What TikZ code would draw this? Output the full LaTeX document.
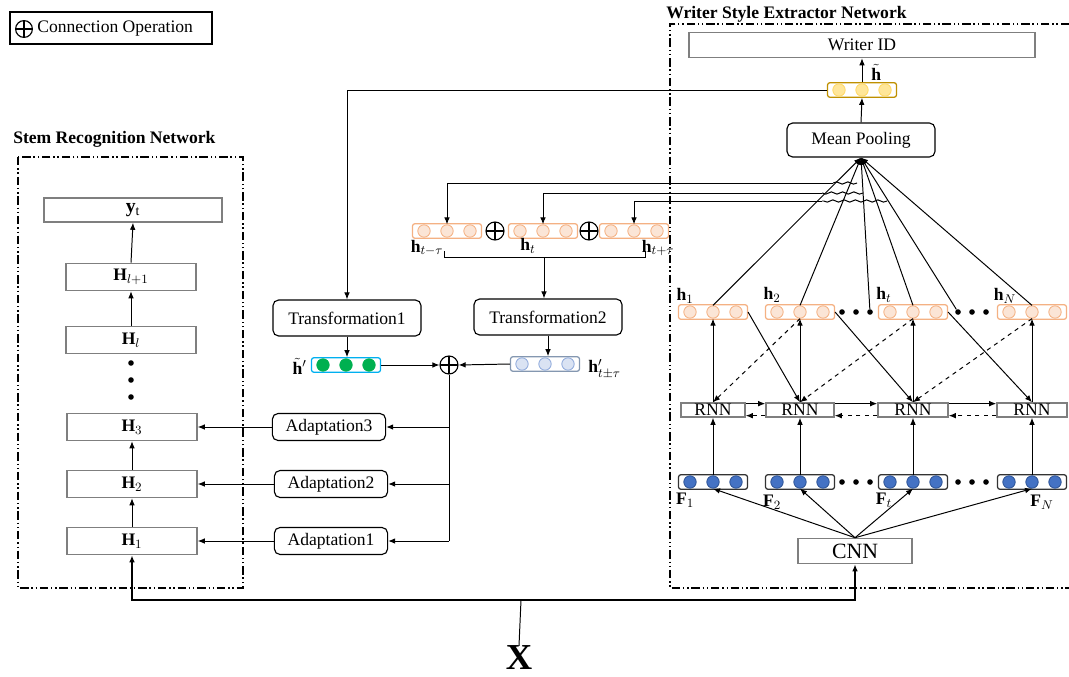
\documentclass[tikz,border=0pt]{standalone}
\usepackage{fontspec}
\setmainfont{Liberation Serif}
\usepackage{tikz}
\usepackage{xcolor}
\usetikzlibrary{arrows.meta,positioning,calc,decorations.pathmorphing}
\definecolor{Peach}{HTML}{F4B183}
\definecolor{PeachFill}{HTML}{FBE5D6}
\definecolor{Gold}{HTML}{BF9000}
\definecolor{GoldFill}{HTML}{FFE699}
\definecolor{GoldRim}{HTML}{FFD966}
\definecolor{Sky}{HTML}{00B0F0}
\definecolor{Leaf}{HTML}{00B050}
\definecolor{Slate}{HTML}{8497B0}
\definecolor{Ice}{HTML}{DAE3F3}
\definecolor{IceRim}{HTML}{8FAADC}
\definecolor{Royal}{HTML}{4472C4}
\definecolor{RoyalRim}{HTML}{2F5597}
\definecolor{Frame}{HTML}{7F7F7F}

% one feature vector: name, position, box colour, circle fill, circle rim
\newcommand{\featvec}[5]{%
  \node[vecbox,draw=#3] (#1) at (#2) {};
  \foreach \k/\dx in {1/-23,2/0,3/23}
    \node[veccirc,fill=#4,draw=#5] (#1-\k) at ($(#1)+(\dx,0)$) {};
}

\begin{document}
\begin{tikzpicture}[x=0.025cm,y=-0.025cm,
  every node/.style={font=\fontsize{12.5}{15}\selectfont},
  grayblock/.style={draw=Frame,line width=1.1pt,inner sep=0pt,minimum width=3.25cm,minimum height=0.675cm},
  opbox/.style={draw,rounded corners=4pt,line width=0.8pt,inner sep=0pt,minimum width=2.83cm,minimum height=0.675cm},
  vecbox/.style={rounded corners=1.5pt,line width=0.9pt,inner sep=0pt,minimum width=1.72cm,minimum height=0.36cm},
  veccirc/.style={circle,inner sep=0pt,minimum size=0.31cm,line width=0.6pt},
  plusop/.style={circle,draw,line width=0.8pt,inner sep=0pt,minimum size=0.45cm,
    path picture={\draw[line width=0.8pt] (path picture bounding box.north) -- (path picture bounding box.south)
      (path picture bounding box.west) -- (path picture bounding box.east);}},
  conn/.style={-{Latex[length=5pt,width=4pt]},line width=0.7pt},
  netframe/.style={line width=0.8pt,dash pattern=on 6pt off 2pt on 1pt off 2pt on 1pt off 2pt},
  hop/.style={line width=0.7pt,decorate,decoration={snake,amplitude=0.8pt,segment length=8pt}},
  bigdot/.style={circle,fill,inner sep=0pt,minimum size=0.14cm},
  lab/.style={inner sep=0pt},
  title/.style={anchor=west,inner sep=0pt,font=\bfseries\fontsize{12.5}{15}\selectfont}]
\useasboundingbox (0,0) rectangle (1069,676);

% legend
\node[draw,line width=0.8pt,inner sep=0pt,minimum width=5.05cm,minimum height=0.8cm] (legend) at (111,28) {};
\node[plusop,minimum size=0.42cm] (legplus) at (24,29) {};
\node[anchor=west,inner sep=0pt] (legtext) at (37,29) {Connection Operation};

% stem recognition network
\node[title] (stemtitle) at (13,139) {Stem Recognition Network};
\draw[netframe] (18,157) rectangle (243,588);
\node[grayblock,minimum width=4.45cm,minimum height=0.6cm,font=\fontsize{14}{16}\selectfont] (yt) at (133,210) {$\mathbf{y}_{\mathrm{t}}$};
\node[grayblock] (Hl1) at (131,277) {$\mathbf{H}_{l+1}$};
\node[grayblock] (Hl) at (131,340) {$\mathbf{H}_{l}$};
\foreach \yy [count=\i] in {363,380,397}
  \node[bigdot] (sd\i) at (131,\yy) {};
\node[grayblock] (H3) at (132,427) {$\mathbf{H}_{3}$};
\node[grayblock] (H2) at (132,484) {$\mathbf{H}_{2}$};
\node[grayblock] (H1) at (132,541) {$\mathbf{H}_{1}$};
\draw[conn] (H1.north) -- (H2.south);
\draw[conn] (H2.north) -- (H3.south);
\draw[conn] (Hl.north) -- (Hl1.south);
\draw[conn] (Hl1.north) -- (yt.south);

% adaptation and transformation
\node[opbox] (A3) at (329,427) {Adaptation3};
\node[opbox] (A2) at (331,484) {Adaptation2};
\node[opbox] (A1) at (331,541) {Adaptation1};
\node[opbox,minimum width=3.7cm,minimum height=0.9cm] (T1) at (347,318) {Transformation1};
\node[opbox,minimum width=3.7cm,minimum height=0.9cm] (T2) at (548,317) {Transformation2};
\node[plusop] (pc) at (449,365) {};
\featvec{hg}{346,365}{Sky}{Leaf}{Leaf}
\featvec{hb}{545,364}{Slate}{Ice}{IceRim}
\node[lab,anchor=east] (lhg) at (307,366) {$\tilde{\mathbf{h}}'$};
\node[lab,anchor=west] (lhb) at (588,369) {$\mathbf{h}'_{t\pm\tau}$};
\draw[conn] (T1.south) -- (T1.south |- hg.north);
\draw[conn] (T2.south) -- (T2.south |- hb.north);
\draw[conn] (hg.east) -- (pc.west);
\draw[conn] (hb.west) -- (pc.east);
\coordinate (vbot) at (449,541);
\draw[line width=0.7pt] (pc.south) -- (vbot);
\foreach \a in {A1,A2,A3}
  \draw[conn] (pc |- \a.east) -- (\a.east);
\draw[conn] (A3.west) -- (H3.east);
\draw[conn] (A2.west) -- (H2.east);
\draw[conn] (A1.west) -- (H1.east);

% context window
\featvec{htm}{447,231}{Peach}{PeachFill}{Peach}
\featvec{ht}{543,231}{Peach}{PeachFill}{Peach}
\featvec{htp}{634,231}{Peach}{PeachFill}{Peach}
\node[plusop] (p1) at (495,231) {};
\node[plusop] (p2) at (589,231) {};
\node[lab] (lhtm) at (427,248) {$\mathbf{h}_{t-\tau}$};
\node[lab] (lht) at (528,246) {$\mathbf{h}_{t}$};
\node[lab] (lhtp) at (658,248) {$\mathbf{h}_{t+\tau}$};
\coordinate (brc) at (544,257);
\draw[line width=0.7pt] (444,251) -- (444,257) -- (645,257) -- (645,251);
\draw[conn] (brc) -- (brc |- T2.north);

% writer style extractor network
\node[title] (wtitle) at (666,14) {Writer Style Extractor Network};
\draw[netframe] (1069,24) -- (670,24) -- (670,588) -- (1069,588);
\node[grayblock,minimum width=8.65cm,minimum height=0.625cm] (wid) at (862,45) {Writer ID};
\featvec{hy}{862,90}{Gold}{GoldFill}{GoldRim}
\node[lab,anchor=west] (lhy) at (871,72) {$\tilde{\mathbf{h}}$};
\node[opbox,minimum width=3.7cm,minimum height=0.85cm] (mp) at (861,140) {Mean Pooling};
\draw[conn] (hy.north) -- (wid.south);
\draw[conn] (mp.north) -- (hy.south);
\draw[conn] (hy.west) -| (T1.north);

% hidden states
\featvec{h1}{713,312}{Peach}{PeachFill}{Peach}
\featvec{h2}{800,312}{Peach}{PeachFill}{Peach}
\featvec{hT}{913,312}{Peach}{PeachFill}{Peach}
\featvec{hN}{1032,312}{Peach}{PeachFill}{Peach}
\foreach \xx [count=\i] in {842,856,870}
  \node[bigdot] (dA\i) at (\xx,312) {};
\foreach \xx [count=\i] in {958,972,986}
  \node[bigdot] (dB\i) at (\xx,312) {};
\node[lab] (lh1) at (685,296) {$\mathbf{h}_{1}$};
\node[lab] (lh2) at (772,295) {$\mathbf{h}_{2}$};
\node[lab] (lhT) at (884,295) {$\mathbf{h}_{t}$};
\node[lab] (lhN) at (1005,296) {$\mathbf{h}_{N}$};

% fan into mean pooling
\foreach \src in {h1-2.north,h2-2.north,dA3,hT-2.north,dB1,hN-2.north}
  \draw[conn] (\src) -- (mp.south);
\coordinate (e1) at (857,183); \coordinate (w1) at (833,183);
\coordinate (e2) at (863,193); \coordinate (w2) at (822,193);
\coordinate (e3) at (887,201); \coordinate (w3) at (822,201);
\draw[hop] (e1) -- (w1);
\draw[hop] (e2) -- (w2);
\draw[hop] (e3) -- (w3);
\draw[conn] (w1) -| (htm-2.north);
\draw[conn] (w2) -| (ht-2.north);
\draw[conn] (w3) -| (htp-2.north);

% rnn layer
\node[grayblock,minimum width=1.6cm,minimum height=0.35cm] (r1) at (713,410) {RNN};
\node[grayblock,minimum width=1.7cm,minimum height=0.35cm] (r2) at (800,410) {RNN};
\node[grayblock,minimum width=1.75cm,minimum height=0.35cm] (r3) at (913,410) {RNN};
\node[grayblock,minimum width=1.75cm,minimum height=0.35cm] (r4) at (1032,410) {RNN};
\draw[conn] ([yshift=-1pt]r1.north east) -- ([yshift=-1pt]r2.north west);
\draw[conn] ([yshift=-1pt]r2.north east) -- ([yshift=-1pt]r3.north west);
\draw[conn] ([yshift=-1pt]r3.north east) -- ([yshift=-1pt]r4.north west);
\draw[conn,dashed] ([yshift=1.5pt]r2.south west) -- ([yshift=1.5pt]r1.south east);
\draw[conn,dashed] ([yshift=1.5pt]r3.south west) -- ([yshift=1.5pt]r2.south east);
\draw[conn,dashed] ([yshift=1.5pt]r4.south west) -- ([yshift=1.5pt]r3.south east);
\draw[conn] (r1.north) -- (h1-2.south);
\draw[conn] (r2.north) -- (h2-2.south);
\draw[conn] (r3.north) -- (hT-2.south);
\draw[conn] (r4.north) -- (hN-2.south);
\draw[conn] (h1.east) -- (r2.north);
\draw[conn] (h2.east) -- (r3.north);
\draw[conn] (hT.east) -- (r4.north);
\draw[conn,dashed] (h2-2.south) -- (r1.north);
\draw[conn,dashed] (hT-2.south) -- (r2.north);
\draw[conn,dashed] (hN-2.south) -- (r3.north);

% cnn features
\featvec{f1}{713,482}{black!80}{Royal}{RoyalRim}
\featvec{f2}{800,482}{black!80}{Royal}{RoyalRim}
\featvec{fT}{913,482}{black!80}{Royal}{RoyalRim}
\featvec{fN}{1032,482}{black!80}{Royal}{RoyalRim}
\foreach \xx [count=\i] in {842,856,870}
  \node[bigdot] (gA\i) at (\xx,482) {};
\foreach \xx [count=\i] in {958,972,986}
  \node[bigdot] (gB\i) at (\xx,482) {};
\node[lab] (lf1) at (685,500) {$\mathbf{F}_{1}$};
\node[lab] (lf2) at (772,502) {$\mathbf{F}_{2}$};
\node[lab] (lfT) at (884,500) {$\mathbf{F}_{t}$};
\node[lab] (lfN) at (1042,502) {$\mathbf{F}_{N}$};
\draw[conn] (f1-2.north) -- (r1.south);
\draw[conn] (f2-2.north) -- (r2.south);
\draw[conn] (fT-2.north) -- (r3.south);
\draw[conn] (fN-2.north) -- (r4.south);
\node[grayblock,minimum width=2.85cm,minimum height=0.625cm,font=\fontsize{15.5}{18}\selectfont] (cnn) at (855,551) {CNN};
\foreach \dst in {f1-2.south,f2-2.south,fT-2.south,fN-2.south}
  \draw[conn] (cnn.north) -- (\dst);

% input
\node[lab,font=\bfseries\fontsize{26}{30}\selectfont] (xin) at (519,658) {X};
\coordinate (xj) at (521,600);
\draw[line width=0.7pt] (xin.north) -- (xj);
\draw[conn,line width=1pt] (xj) -| (H1.south);
\draw[conn,line width=1pt] (xj) -| (cnn.south);
\end{tikzpicture}
\end{document}
